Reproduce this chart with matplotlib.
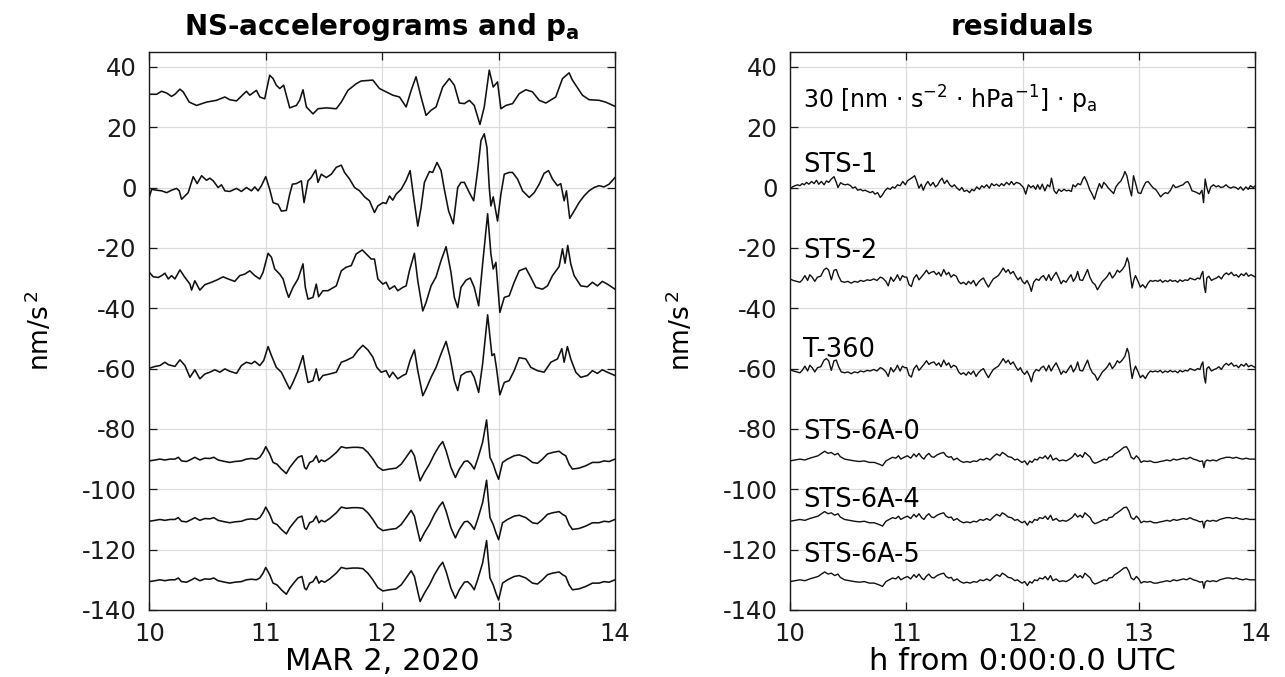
import numpy as np
import matplotlib
matplotlib.use("Agg")
import matplotlib.pyplot as plt

# Vertices (hour UTC, nm/s^2 relative to the trace's offset)
PA_30 = [(10.0, 0.9), (10.063, 0.9), (10.106, 1.9), (10.149, 1.3), (10.191, 0.2), (10.220, 0.9), (10.263, 2.6),
         (10.291, 1.7), (10.343, -1.7), (10.406, -2.8), (10.491, -1.7), (10.577, -1.1), (10.649, 0.0),
         (10.691, -0.9), (10.749, -1.3), (10.834, 1.9), (10.863, 0.6), (10.920, 2.2), (10.949, 0.0),
         (10.991, -0.6), (11.034, 7.2), (11.063, 6.1), (11.091, 3.9), (11.120, 2.8), (11.154, 3.9),
         (11.206, -3.6), (11.263, -2.8), (11.291, -1.1), (11.320, 2.4), (11.349, -3.3), (11.406, -5.6),
         (11.449, -3.9), (11.520, -3.6), (11.606, -3.9), (11.649, -1.7), (11.706, 2.2), (11.777, 4.4),
         (11.820, 5.3), (11.920, 5.6), (11.977, 2.8), (12.034, 1.7), (12.091, 0.6), (12.149, 0.0),
         (12.206, -3.3), (12.249, 2.2), (12.291, 6.7), (12.334, 0.0), (12.377, -6.1), (12.420, -4.4),
         (12.463, -3.3), (12.520, 3.3), (12.577, 6.1), (12.620, 3.9), (12.663, -2.0), (12.706, -2.2),
         (12.749, -1.1), (12.791, -2.8), (12.840, -9.1), (12.877, -3.3), (12.920, 8.9), (12.954, 3.3),
         (12.991, 5.0), (13.020, -3.9), (13.063, -2.8), (13.120, -2.2), (13.177, 1.1), (13.234, 2.4),
         (13.291, 1.7), (13.349, -1.1), (13.406, -2.0), (13.491, 0.0), (13.549, 6.1), (13.606, 8.0),
         (13.634, 5.6), (13.720, 0.6), (13.777, -0.9), (13.863, -1.1), (13.920, -1.7), (14.0, -3.1)]

ACC_STS1 = [(10.0, -3.1), (10.020, -0.6), (10.063, -0.9), (10.106, -1.1), (10.149, -1.7), (10.191, -0.9),
            (10.234, -0.3), (10.257, -1.1), (10.277, -3.9), (10.306, -2.8), (10.334, -1.7), (10.377, 3.6),
            (10.411, 1.3), (10.449, 3.9), (10.491, 2.4), (10.520, 3.1), (10.549, 2.2), (10.591, 0.0),
            (10.620, 0.9), (10.649, -1.1), (10.691, -1.3), (10.749, -0.3), (10.791, -1.3), (10.834, 0.0),
            (10.877, -1.1), (10.906, 0.2), (10.934, -1.1), (10.963, 0.6), (11.000, 3.6), (11.034, -0.6),
            (11.063, -5.0), (11.106, -5.6), (11.134, -7.8), (11.177, -7.6), (11.206, -2.2), (11.229, 1.1),
            (11.263, 1.3), (11.306, 2.2), (11.329, -5.0), (11.363, 2.2), (11.391, 3.3), (11.429, 5.8),
            (11.449, 1.7), (11.477, 4.4), (11.520, 3.3), (11.563, 4.4), (11.606, 6.7), (11.649, 7.4),
            (11.677, 5.0), (11.720, 2.8), (11.763, 0.0), (11.806, -1.1), (11.849, -3.1), (11.891, -4.4),
            (11.934, -8.3), (11.963, -6.1), (12.006, -5.0), (12.034, -5.3), (12.063, -2.8), (12.091, -4.2),
            (12.120, -2.2), (12.163, -0.6), (12.206, 2.4), (12.240, 5.6), (12.269, -2.8), (12.306, -12.8),
            (12.334, -6.7), (12.363, 1.7), (12.406, 5.3), (12.434, 5.0), (12.471, 8.3), (12.506, 5.6),
            (12.534, -0.6), (12.571, -7.8), (12.611, -12.0), (12.649, 0.0), (12.677, 1.7), (12.706, 1.7),
            (12.749, -1.7), (12.786, -4.4), (12.820, 5.6), (12.849, 15.6), (12.877, 17.8), (12.900, 13.3),
            (12.920, 0.0), (12.934, -6.1), (12.954, -3.1), (12.991, -11.1), (13.020, -2.2), (13.049, 4.4),
            (13.091, 5.0), (13.120, 5.0), (13.163, 2.8), (13.206, -1.1), (13.263, -3.3), (13.306, -1.7),
            (13.349, 1.1), (13.391, 4.7), (13.429, 5.6), (13.463, 2.8), (13.506, 0.6), (13.534, 1.3),
            (13.563, -4.4), (13.583, -1.1), (13.611, -10.2), (13.649, -7.8), (13.691, -5.0), (13.734, -2.8),
            (13.777, -1.1), (13.820, 0.0), (13.863, 0.6), (13.906, 0.2), (13.949, 1.1), (14.0, 3.3)]

ACC_STS2 = [(10.0, 1.9), (10.034, 0.4), (10.077, 0.2), (10.106, 0.8), (10.134, 1.6), (10.163, -0.3),
            (10.191, 0.8), (10.220, -0.3), (10.263, 2.7), (10.306, 0.2), (10.349, -2.0), (10.363, -4.0),
            (10.391, -0.9), (10.434, -4.0), (10.477, -2.2), (10.534, -1.4), (10.577, -0.7), (10.634, 0.4),
            (10.677, -0.3), (10.734, -1.1), (10.777, 0.8), (10.820, 1.3), (10.863, 2.4), (10.906, 0.8),
            (10.949, -0.3), (10.977, 1.9), (11.020, 8.2), (11.049, 6.9), (11.077, 3.0), (11.120, 1.3),
            (11.149, -0.3), (11.177, -4.2), (11.197, -6.4), (11.234, -3.1), (11.277, -0.3), (11.320, 4.7),
            (11.340, -3.1), (11.363, -7.0), (11.406, -6.4), (11.434, -2.0), (11.454, -6.2), (11.491, -4.2),
            (11.534, -4.2), (11.606, -2.6), (11.649, 2.4), (11.691, 3.6), (11.734, 4.1), (11.777, 8.0),
            (11.829, 9.3), (11.863, 8.0), (11.906, 6.3), (11.934, 6.3), (11.963, -0.3), (12.006, -2.0),
            (12.034, -1.4), (12.063, -3.7), (12.106, -2.6), (12.134, -4.2), (12.177, -3.1), (12.206, -2.6),
            (12.234, 2.4), (12.277, 8.2), (12.306, -0.9), (12.349, -10.9), (12.377, -8.1), (12.420, -2.6),
            (12.463, 0.4), (12.506, 5.8), (12.549, 10.4), (12.591, 1.9), (12.620, -6.4), (12.649, -9.8),
            (12.677, -3.1), (12.720, -0.7), (12.757, 0.0), (12.791, -3.1), (12.829, -9.2), (12.863, 4.7),
            (12.906, 21.3), (12.934, 8.0), (12.954, 3.0), (12.977, 5.2), (13.011, -11.4), (13.049, -6.4),
            (13.091, -5.9), (13.134, -1.4), (13.177, 2.4), (13.234, 3.3), (13.277, 0.2), (13.320, -3.1),
            (13.377, -3.7), (13.420, -2.6), (13.463, 0.8), (13.520, 3.8), (13.549, 9.7), (13.571, 4.9),
            (13.594, 10.8), (13.620, 4.7), (13.649, 0.8), (13.706, -2.6), (13.763, -2.9), (13.806, -1.4),
            (13.849, -2.6), (13.891, -1.1), (13.934, -2.0), (14.0, -3.7)]

ACC_T360 = [(10.0, 0.1), (10.049, 0.7), (10.091, 1.0), (10.134, 2.1), (10.163, 1.3), (10.191, 1.0),
            (10.220, 0.7), (10.263, 2.9), (10.306, 1.0), (10.349, -2.9), (10.391, -0.4), (10.434, -3.4),
            (10.477, -1.8), (10.520, -1.2), (10.563, -0.4), (10.606, -1.2), (10.649, -0.1), (10.691, -0.9),
            (10.749, -1.6), (10.791, 1.0), (10.834, 2.1), (10.877, 1.6), (10.906, 2.4), (10.949, 1.0),
            (10.983, 2.7), (11.020, 7.3), (11.049, 4.3), (11.091, 0.4), (11.134, -1.2), (11.177, -4.6),
            (11.206, -6.8), (11.234, -4.6), (11.277, -0.7), (11.320, 4.3), (11.334, 1.0), (11.363, -4.6),
            (11.406, -4.0), (11.434, -0.1), (11.457, -4.0), (11.491, -2.3), (11.549, -1.8), (11.606, -1.2),
            (11.649, 2.1), (11.691, 2.7), (11.749, 3.8), (11.791, 6.0), (11.834, 7.7), (11.877, 6.2),
            (11.920, 3.8), (11.954, 0.4), (11.991, -1.2), (12.034, -0.7), (12.063, -2.9), (12.091, -1.2),
            (12.134, -3.4), (12.177, -2.3), (12.206, -1.8), (12.240, 2.7), (12.277, 6.2), (12.306, -0.7),
            (12.349, -9.0), (12.377, -6.8), (12.420, -2.9), (12.463, 0.4), (12.506, 4.9), (12.549, 9.0),
            (12.583, 3.8), (12.620, -4.0), (12.649, -7.3), (12.677, -2.3), (12.720, -1.2), (12.763, -0.9),
            (12.791, -2.9), (12.829, -7.9), (12.863, 1.6), (12.906, 17.8), (12.943, 4.3), (12.963, 4.9),
            (12.983, -0.1), (13.011, -8.7), (13.049, -4.6), (13.091, -4.0), (13.134, -0.7), (13.177, 3.6),
            (13.234, 3.2), (13.277, 0.4), (13.334, -0.7), (13.391, -1.2), (13.449, 2.1), (13.506, 3.2),
            (13.543, 6.6), (13.563, 2.1), (13.591, 7.3), (13.620, 3.2), (13.663, -1.2), (13.706, -2.9),
            (13.763, -2.3), (13.806, -0.7), (13.849, -1.6), (13.891, -0.4), (13.934, -1.2), (14.0, -2.3)]

ACC_STS6A = [(10.0, -0.6), (10.049, -0.3), (10.091, 0.0), (10.134, -0.3), (10.177, 0.0), (10.220, 0.0),
             (10.249, 0.6), (10.277, -0.6), (10.320, -0.8), (10.363, 0.0), (10.391, 0.6), (10.434, -0.3),
             (10.477, 0.3), (10.520, 0.2), (10.554, 0.6), (10.591, -0.3), (10.649, -0.8), (10.691, -1.1),
             (10.734, -0.8), (10.791, -0.6), (10.834, 0.0), (10.877, 0.2), (10.920, 0.0), (10.949, 0.6),
             (10.977, 2.2), (11.000, 4.1), (11.034, 1.7), (11.063, -1.1), (11.097, -1.7), (11.134, -3.3),
             (11.177, -4.8), (11.206, -2.8), (11.240, -1.1), (11.277, 0.6), (11.311, 1.1), (11.334, -2.8),
             (11.349, -3.3), (11.377, -1.1), (11.406, -0.6), (11.434, 1.1), (11.457, -1.1), (11.477, -0.3),
             (11.506, -0.8), (11.549, 0.3), (11.606, 2.2), (11.649, 4.1), (11.691, 3.7), (11.749, 3.9),
             (11.791, 3.9), (11.834, 3.7), (11.877, 2.2), (11.920, 0.0), (11.963, -2.6), (12.006, -3.7),
             (12.063, -3.3), (12.120, -3.0), (12.163, -1.7), (12.206, 0.6), (12.249, 3.0), (12.277, 1.1),
             (12.306, -3.9), (12.326, -7.2), (12.363, -4.4), (12.406, -1.7), (12.449, 1.7), (12.491, 4.4),
             (12.520, 5.8), (12.549, 2.8), (12.591, -2.8), (12.629, -6.1), (12.663, -3.3), (12.706, -0.8),
             (12.734, -0.6), (12.763, -1.7), (12.791, -3.3), (12.820, 0.0), (12.863, 5.6), (12.897, 13.0),
             (12.926, 0.6), (12.954, -1.7), (12.977, -4.4), (13.000, -6.7), (13.034, -1.1), (13.077, 0.0),
             (13.134, 1.1), (13.177, 1.4), (13.234, 0.6), (13.291, -1.1), (13.334, -1.4), (13.377, 0.0),
             (13.420, 1.7), (13.463, 2.2), (13.520, 2.6), (13.549, 1.7), (13.577, 1.1), (13.606, -1.7),
             (13.634, -3.3), (13.691, -3.0), (13.749, -2.2), (13.806, -1.1), (13.863, -1.1), (13.906, -0.6),
             (13.949, -0.8), (14.0, 0.0)]

RES_STS1 = [(10.0, -0.6), (10.020, 0.2), (10.043, 0.6), (10.065, 0.9), (10.085, 0.6), (10.105, 1.3),
            (10.122, 0.9), (10.142, 1.7), (10.162, 1.1), (10.185, 2.0), (10.207, 1.3), (10.227, 2.4),
            (10.247, 1.1), (10.270, 2.0), (10.293, 0.9), (10.313, 2.2), (10.332, 1.7), (10.355, 2.8),
            (10.378, 3.6), (10.398, 1.7), (10.412, 0.0), (10.435, 1.6), (10.455, 1.1), (10.474, 0.9),
            (10.497, 1.1), (10.520, 0.6), (10.540, -0.2), (10.560, 0.2), (10.582, -0.9), (10.605, -0.6),
            (10.625, -1.1), (10.645, -0.9), (10.668, -1.3), (10.690, -1.7), (10.710, -1.3), (10.730, -2.2),
            (10.753, -1.7), (10.776, -3.3), (10.795, -2.4), (10.815, -1.1), (10.838, -0.2), (10.861, -0.6),
            (10.881, 0.2), (10.901, -0.2), (10.923, 0.9), (10.946, 0.6), (10.969, 2.0), (10.991, 0.9),
            (11.009, 2.2), (11.031, 2.8), (11.051, 3.3), (11.071, 3.9), (11.088, 2.2), (11.108, -0.2),
            (11.128, 1.1), (11.145, -0.9), (11.165, 0.9), (11.185, 2.0), (11.207, 0.6), (11.230, 1.7),
            (11.250, 0.2), (11.270, 0.9), (11.287, 2.2), (11.307, 3.1), (11.327, 1.3), (11.349, 2.4),
            (11.372, 0.9), (11.392, 0.2), (11.412, 0.9), (11.435, -0.2), (11.457, -0.9), (11.477, 0.0),
            (11.497, -1.3), (11.520, -0.9), (11.543, -1.7), (11.563, -0.6), (11.582, -1.1), (11.605, 0.2),
            (11.628, -0.6), (11.648, 0.6), (11.668, 0.0), (11.690, 0.9), (11.713, -0.2), (11.733, 1.3),
            (11.753, 0.6), (11.776, 1.1), (11.798, 0.4), (11.818, 1.3), (11.838, 0.6), (11.861, 1.7),
            (11.884, 0.9), (11.903, 2.0), (11.923, 0.9), (11.946, 1.7), (11.974, 1.3), (12.006, 0.0),
            (12.026, -2.2), (12.048, 0.9), (12.071, 0.0), (12.091, 0.6), (12.111, -0.6), (12.128, 0.9),
            (12.148, -0.6), (12.168, 1.1), (12.190, -1.1), (12.213, 0.9), (12.233, 0.2), (12.247, 3.1),
            (12.270, -1.1), (12.290, -2.0), (12.310, -0.6), (12.332, -1.3), (12.355, -0.6), (12.375, -1.1),
            (12.395, -0.9), (12.418, -1.3), (12.432, 0.9), (12.452, 0.2), (12.474, 1.3), (12.497, 0.9),
            (12.517, 2.8), (12.531, 3.6), (12.554, 1.7), (12.574, -0.6), (12.594, -2.0), (12.616, -3.9),
            (12.639, -0.9), (12.659, 1.3), (12.679, -0.2), (12.696, 1.7), (12.716, 0.9), (12.736, -0.2),
            (12.759, -1.1), (12.781, -2.0), (12.801, 0.2), (12.821, 1.3), (12.844, 2.2), (12.866, 3.9),
            (12.878, 5.3), (12.895, 3.9), (12.915, 0.2), (12.935, -2.8), (12.952, 3.9), (12.972, 1.1),
            (12.991, -1.7), (13.014, -2.0), (13.037, 0.2), (13.057, 1.7), (13.077, 2.0), (13.099, 0.9),
            (13.122, -0.2), (13.142, -0.6), (13.162, -1.7), (13.185, -3.1), (13.207, -2.2), (13.227, -1.7),
            (13.247, -2.0), (13.270, -0.9), (13.293, 0.9), (13.313, 0.0), (13.332, 0.2), (13.355, 0.6),
            (13.378, 0.9), (13.398, 1.7), (13.418, 2.0), (13.435, 0.9), (13.455, -1.1), (13.474, -1.3),
            (13.497, -1.7), (13.520, -2.2), (13.540, -0.9), (13.554, -5.0), (13.568, 2.8), (13.582, 0.0),
            (13.597, -2.0), (13.616, 0.2), (13.639, 0.9), (13.662, 0.2), (13.682, 0.6), (13.702, 0.0),
            (13.724, 0.2), (13.747, 0.9), (13.767, 0.2), (13.787, -0.2), (13.810, 0.2), (13.832, 0.0),
            (13.852, -0.6), (13.872, 0.2), (13.895, -0.9), (13.918, 0.2), (13.938, -0.6), (13.957, 0.6),
            (13.980, 0.0), (14.0, 0.6)]

RES_STS2 = [(10.0, -0.3), (10.028, -0.8), (10.057, -1.1), (10.085, -1.4), (10.105, -0.6), (10.128, 0.8),
            (10.151, -0.8), (10.170, 1.1), (10.190, 0.3), (10.213, -1.1), (10.236, 0.3), (10.264, 0.6),
            (10.293, 2.8), (10.313, 3.3), (10.332, 2.6), (10.355, -0.6), (10.378, 2.6), (10.398, 2.8),
            (10.418, 0.6), (10.440, -1.1), (10.469, -1.4), (10.497, -1.1), (10.526, -1.7), (10.554, -1.1),
            (10.582, -1.4), (10.605, -0.8), (10.634, -1.1), (10.662, -0.6), (10.690, -0.8), (10.719, -0.3),
            (10.747, -0.8), (10.776, 0.3), (10.795, 0.0), (10.824, -1.1), (10.844, -2.6), (10.866, 0.3),
            (10.889, -1.1), (10.909, 0.0), (10.923, 1.1), (10.946, -0.8), (10.966, 0.8), (10.986, 0.3),
            (11.003, 0.3), (11.023, -2.2), (11.043, -2.8), (11.065, 0.0), (11.088, 1.1), (11.108, -0.6),
            (11.128, 0.3), (11.151, 1.4), (11.173, 2.6), (11.193, 1.4), (11.213, 1.9), (11.236, 2.2),
            (11.259, 1.1), (11.278, 1.9), (11.298, 0.6), (11.321, 2.8), (11.344, 1.1), (11.364, 1.9),
            (11.384, 0.3), (11.406, 1.1), (11.429, 0.6), (11.449, -1.1), (11.469, -1.9), (11.491, -1.4),
            (11.514, -2.2), (11.534, -1.1), (11.554, -1.9), (11.577, -0.8), (11.599, -2.6), (11.619, -1.4),
            (11.639, -0.6), (11.662, 0.0), (11.685, -1.7), (11.705, -3.0), (11.724, -1.7), (11.747, -0.3),
            (11.770, 0.3), (11.790, 0.8), (11.810, 1.9), (11.832, 3.3), (11.855, 1.9), (11.875, 2.8),
            (11.895, 1.4), (11.918, 2.2), (11.940, 0.6), (11.960, -0.6), (11.980, 0.3), (11.997, -1.1),
            (12.017, -1.9), (12.037, -0.8), (12.060, -2.6), (12.074, -4.4), (12.094, -1.4), (12.116, -0.3),
            (12.139, -0.8), (12.159, 0.3), (12.179, 0.8), (12.202, -0.8), (12.224, 1.1), (12.244, -0.8),
            (12.264, 0.6), (12.287, 1.9), (12.310, 0.0), (12.330, -1.9), (12.349, -0.8), (12.372, -1.4),
            (12.395, 0.0), (12.415, 1.1), (12.435, -1.1), (12.457, 0.3), (12.472, 2.2), (12.491, -0.6),
            (12.514, -0.8), (12.537, 1.1), (12.557, 2.8), (12.577, 0.3), (12.599, -1.4), (12.622, -2.2),
            (12.642, -3.9), (12.662, -2.6), (12.685, -1.1), (12.707, -0.3), (12.727, 0.6), (12.747, 1.9),
            (12.770, 0.0), (12.793, 1.1), (12.813, 2.6), (12.832, 1.9), (12.855, 2.8), (12.878, 4.1),
            (12.898, 6.7), (12.912, 5.0), (12.926, 0.6), (12.940, -3.3), (12.955, -0.6), (12.969, 0.8),
            (12.991, -1.1), (13.011, -3.0), (13.031, -2.2), (13.054, -3.3), (13.077, -1.7), (13.097, -0.8),
            (13.116, -1.1), (13.139, -0.8), (13.162, -1.1), (13.182, -0.6), (13.202, -1.4), (13.224, -0.8),
            (13.247, -1.2), (13.267, -0.6), (13.287, -1.1), (13.310, -0.8), (13.332, -1.4), (13.352, -0.6),
            (13.372, -1.1), (13.395, -0.6), (13.418, -0.8), (13.438, 0.0), (13.457, -0.3), (13.480, -0.6),
            (13.503, 0.0), (13.523, -0.3), (13.537, 1.4), (13.548, 2.2), (13.560, -2.8), (13.571, -4.8),
            (13.582, 0.0), (13.599, 0.6), (13.622, -0.8), (13.645, -0.3), (13.665, 0.0), (13.685, 0.6),
            (13.707, -0.3), (13.730, 1.1), (13.750, 1.7), (13.770, 1.1), (13.793, 1.9), (13.815, 0.8),
            (13.835, 1.1), (13.855, 0.3), (13.878, 1.4), (13.901, 0.8), (13.920, 1.7), (13.940, 0.6),
            (13.963, 1.1), (14.0, 0.3)]

RES_STS6A = [(10.0, -0.6), (10.043, -0.3), (10.085, 0.0), (10.128, -0.3), (10.170, 0.3), (10.213, 0.8),
             (10.241, 1.1), (10.270, 1.9), (10.298, 2.6), (10.327, 1.9), (10.355, 2.2), (10.384, 1.4),
             (10.412, 1.9), (10.432, 0.8), (10.469, 0.0), (10.511, -0.3), (10.554, -0.6), (10.597, -0.8),
             (10.639, -0.6), (10.682, -1.1), (10.724, -1.1), (10.767, -1.7), (10.795, -2.2), (10.824, -0.6),
             (10.852, 0.0), (10.881, 0.6), (10.909, 0.3), (10.932, 1.1), (10.952, 0.0), (10.980, 0.6),
             (11.009, 1.1), (11.037, 0.3), (11.065, 1.7), (11.085, 0.8), (11.108, 1.9), (11.131, 0.6),
             (11.151, 0.0), (11.170, 1.1), (11.193, 1.9), (11.216, 0.8), (11.236, 0.6), (11.264, 1.4),
             (11.293, 1.9), (11.321, 2.2), (11.341, 1.1), (11.364, 0.6), (11.386, 0.8), (11.406, -0.3),
             (11.435, 0.3), (11.463, -0.6), (11.491, -1.1), (11.520, -0.8), (11.548, -1.1), (11.577, -0.6),
             (11.605, -0.8), (11.634, 0.0), (11.662, -0.3), (11.690, 0.3), (11.719, -0.3), (11.747, 0.8),
             (11.776, 1.7), (11.804, 1.1), (11.824, 2.2), (11.847, 1.7), (11.875, 0.8), (11.903, 0.6),
             (11.932, -0.3), (11.955, 0.0), (11.974, -0.6), (11.994, -1.1), (12.017, -0.6), (12.040, -1.9),
             (12.060, -0.6), (12.080, -1.1), (12.102, 0.0), (12.125, -0.3), (12.145, 0.6), (12.173, 0.3),
             (12.193, 1.1), (12.216, 0.0), (12.239, 1.4), (12.259, -0.3), (12.287, 0.3), (12.315, -0.6),
             (12.344, -0.3), (12.372, -0.6), (12.401, 0.0), (12.429, 0.8), (12.449, 1.9), (12.472, 0.8),
             (12.494, 1.4), (12.514, 0.6), (12.534, 2.2), (12.557, 1.4), (12.580, 0.6), (12.599, -0.8),
             (12.619, -1.4), (12.642, -1.1), (12.670, -0.6), (12.699, 0.0), (12.722, -0.3), (12.741, 0.6),
             (12.770, 0.8), (12.790, 1.7), (12.813, 2.2), (12.841, 3.0), (12.869, 3.9), (12.892, 4.1),
             (12.912, 2.8), (12.932, 0.6), (12.955, 0.0), (12.977, 1.1), (12.997, 0.3), (13.017, -1.1),
             (13.040, -0.6), (13.068, -0.8), (13.097, -0.6), (13.125, -1.1), (13.153, -1.1), (13.182, -0.8),
             (13.210, -0.6), (13.239, -0.3), (13.267, -0.6), (13.295, 0.0), (13.324, -0.3), (13.352, 0.0),
             (13.381, 0.3), (13.409, 0.0), (13.438, 0.6), (13.466, 0.0), (13.494, -0.3), (13.523, -0.8),
             (13.545, -0.6), (13.557, -2.8), (13.568, -0.8), (13.585, -0.3), (13.608, -0.6), (13.636, -0.3),
             (13.665, -0.6), (13.693, 0.0), (13.722, 0.3), (13.750, 0.6), (13.778, 0.6), (13.807, 0.3),
             (13.835, 0.6), (13.864, 0.2), (13.892, 0.0), (13.920, 0.3), (13.949, 0.0), (14.0, 0.0)]

# (trace, vertical offset) for each panel
left_traces = [(PA_30, 30), (ACC_STS1, 0), (ACC_STS2, -30), (ACC_T360, -60),
               (ACC_STS6A, -90), (ACC_STS6A, -110), (ACC_STS6A, -130)]
right_traces = [(RES_STS1, 0), (RES_STS2, -30), (RES_STS2, -60),
                (RES_STS6A, -90), (RES_STS6A, -110), (RES_STS6A, -130)]
right_labels = ["STS-1", "STS-2", "T-360", "STS-6A-0", "STS-6A-4", "STS-6A-5"]
right_label_y = [7.3, -20.9, -53.7, -80.9, -103.6, -121.8]
pressure_label = r"30 [nm $\cdot$ s$^{-2}$ $\cdot$ hPa$^{-1}$] $\cdot$ p$_\mathrm{a}$"

x_ticks = [10, 11, 12, 13, 14]
y_ticks = list(range(-140, 41, 20))

plt.rcParams["font.family"] = ["DejaVu Sans"]
plt.rcParams["mathtext.fontset"] = "dejavusans"
plt.rcParams["axes.unicode_minus"] = False

fig = plt.figure(figsize=(12.85, 6.77), dpi=100)
ax_l = fig.add_axes([0.1162, 0.099, 0.3624, 0.8246])
ax_r = fig.add_axes([0.6148, 0.099, 0.3622, 0.8246])


def style_axes(ax, title, xlabel):
    ax.set_xlim(10, 14)
    ax.set_ylim(-140, 45)
    ax.set_xticks(x_ticks)
    ax.set_yticks(y_ticks)
    ax.grid(True, color="#dcdcdc", lw=0.9)
    ax.set_axisbelow(True)
    for sp in ax.spines.values():
        sp.set_linewidth(1.0)
        sp.set_color("#1a1a1a")
    ax.tick_params(direction="in", top=True, right=True, length=6, width=0.9,
                   labelsize=17.5, pad=9, colors="#1a1a1a")
    ax.tick_params(axis="x", pad=9)
    ax.text(0.5, 1.045, title, transform=ax.transAxes, ha="center", va="center",
            fontsize=20, fontweight="bold")
    ax.set_xlabel(xlabel, fontsize=22)
    ax.xaxis.set_label_coords(0.5, -0.092)
    ax.xaxis.label.set_va("center")
    ax.set_ylabel(r"nm/s$^{\,2}$", fontsize=19)
    ax.yaxis.label.set_va("center")
    ax.yaxis.set_label_coords(-0.235, 0.5)


for trace, off in left_traces:
    t = np.array([p[0] for p in trace])
    v = np.array([p[1] for p in trace])
    ax_l.plot(t, v + off, color="#111111", lw=1.15)

for trace, off in right_traces:
    t = np.array([p[0] for p in trace])
    v = np.array([p[1] for p in trace])
    ax_r.plot(t, v + off, color="#111111", lw=1.0)

for name, yl in zip(right_labels, right_label_y):
    ax_r.text(10.11, yl, name, fontsize=18.5, va="center", ha="left")
ax_r.text(10.11, 29, pressure_label, fontsize=17, va="center", ha="left")

style_axes(ax_l, r"NS-accelerograms and p$_\mathbf{a}$", "MAR 2, 2020")
style_axes(ax_r, "residuals", "h from 0:00:0.0 UTC")

fig.savefig("out.png", dpi=100)
